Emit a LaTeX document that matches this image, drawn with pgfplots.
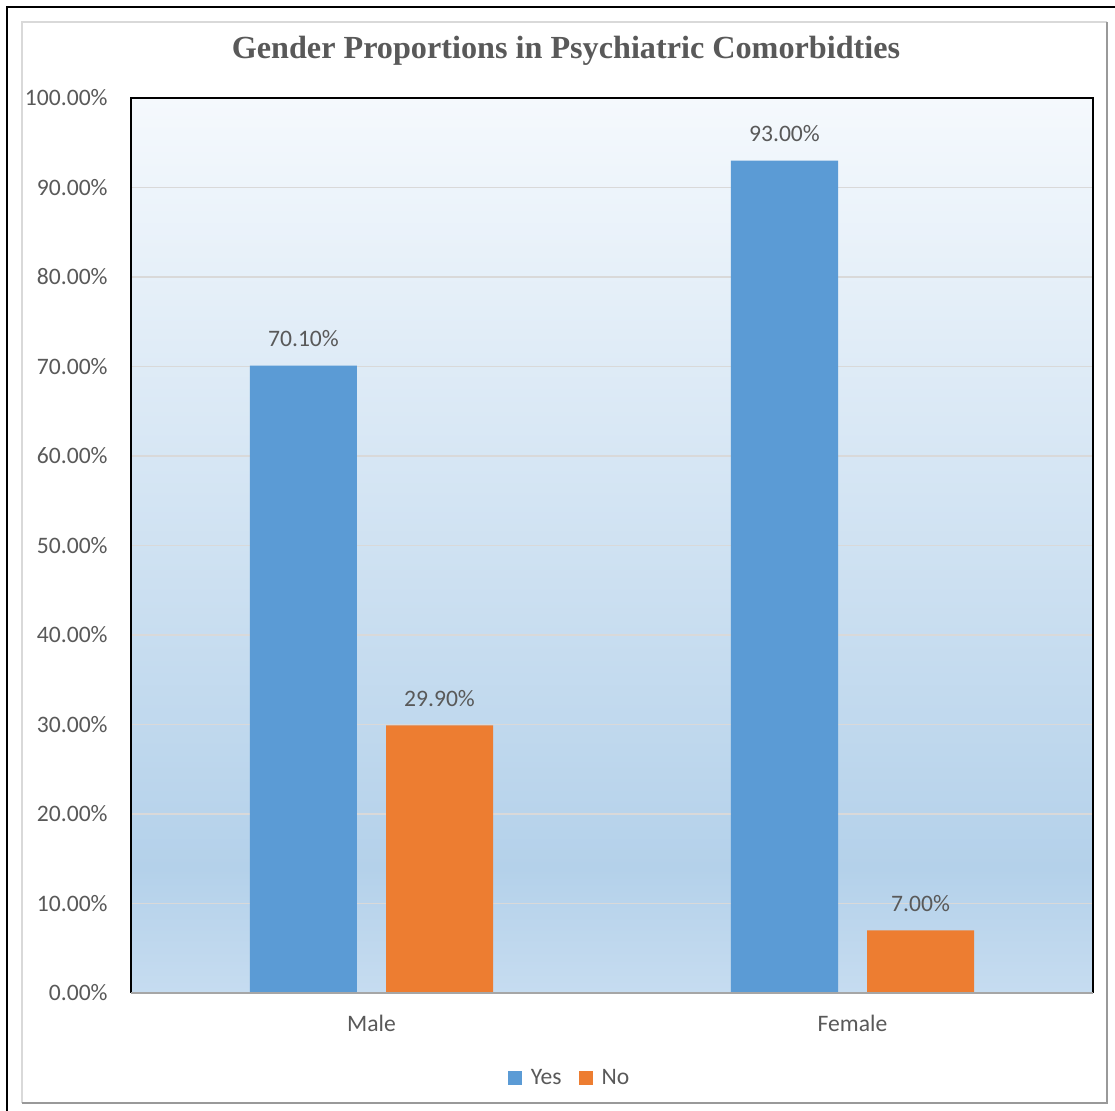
\documentclass[border=0pt]{standalone}
\usepackage{pgfplots}
\pgfplotsset{compat=1.18}
\usepackage{fontspec}
\setmainfont{Carlito}
\newfontfamily\titlefont{Liberation Serif}

\definecolor{txt}{HTML}{595959}
\definecolor{cblue}{HTML}{5B9BD5}
\definecolor{corange}{HTML}{ED7D31}
\definecolor{gridc}{HTML}{D9D9D9}
\definecolor{framegray}{HTML}{D9D9D9}
\definecolor{bgtop}{HTML}{F5F9FD}
\definecolor{bgdark}{HTML}{B4D1EA}
\definecolor{bgbot}{HTML}{C6DCF0}

% plot-area fill: pale at the top, deepest blue a little above the base
\pgfdeclareverticalshading{plotbg}{100bp}{%
  color(0bp)=(bgbot); color(25bp)=(bgbot); color(32bp)=(bgdark);
  color(75bp)=(bgtop); color(100bp)=(bgtop)}

\pgfplotsset{/pgf/number format/assume math mode=true}

\begin{document}
\begin{tikzpicture}
\useasboundingbox (0,0) rectangle (557.5pt,555.5pt);
\clip (0,0) rectangle (557.5pt,555.5pt);

% chart frames
\draw[line width=1pt] (3.5pt,-5pt) -- (3.5pt,552pt) -- (565pt,552pt);
\draw[framegray, line width=0.75pt] (11pt,4pt) -- (11pt,544.5pt) -- (553.5pt,544.5pt);
\draw[black!40, line width=0.75pt] (553.5pt,544.5pt) -- (553.5pt,4pt) -- (11pt,4pt);

\node[font=\titlefont\bfseries\fontsize{16.1}{19}\selectfont, text=txt]
  at (283pt,530pt) {Gender Proportions in Psychiatric Comorbidties};

\begin{axis}[
  at={(65.5pt,59pt)}, anchor=south west,
  width=481pt, height=447.5pt, scale only axis,
  xmin=-0.5, xmax=1.5, ymin=0, ymax=100,
  xtick={0,1}, xticklabels={Male,Female},
  ytick={0,10,...,100},
  yticklabel={\pgfmathprintnumber[fixed,fixed zerofill,precision=2]{\tick}\%},
  ybar, bar width=0.2225,
  ymajorgrids, grid style={color=gridc, line width=0.75pt},
  axis line style={draw=none},
  major tick length=0pt,
  tick label style={font=\fontsize{11.8}{14}\selectfont, text=txt},
  yticklabel style={anchor=east, inner sep=0pt, xshift=-11.5pt},
  xticklabel style={anchor=base, inner sep=0pt, yshift=-19.5pt},
  axis background/.style={shading=plotbg},
  nodes near coords={\pgfmathprintnumber[fixed,fixed zerofill,precision=2]{\pgfplotspointmeta}\%},
  every node near coord/.append style={anchor=base, inner sep=0pt, yshift=9.5pt,
    font=\fontsize{11.8}{14}\selectfont, text=txt},
  legend columns=2,
  legend style={at={(axis description cs:0.457,0)}, anchor=center, yshift=-42.5pt,
    draw=none, fill=none, font=\fontsize{11.8}{14}\selectfont, text=txt,
    /tikz/every odd column/.append style={column sep=2.5pt},
    /tikz/every even column/.append style={column sep=6.5pt}},
  legend image code/.code={\fill[#1] (0pt,-3.5pt) rectangle (7pt,3.5pt);},
  clip=false,
]
\addplot[fill=cblue, draw=none, bar shift=-0.1414] coordinates {(0,70.1) (1,93)};
\addplot[fill=corange, draw=none, bar shift=0.1414] coordinates {(0,29.9) (1,7)};
\legend{Yes,No}

\draw[line width=1pt] (rel axis cs:0,0) -- (rel axis cs:0,1) -- (rel axis cs:1,1) -- (rel axis cs:1,0);
\draw[color=black!35, line width=1pt] (rel axis cs:0,0) -- (rel axis cs:1,0);
\end{axis}
\end{tikzpicture}
\end{document}
